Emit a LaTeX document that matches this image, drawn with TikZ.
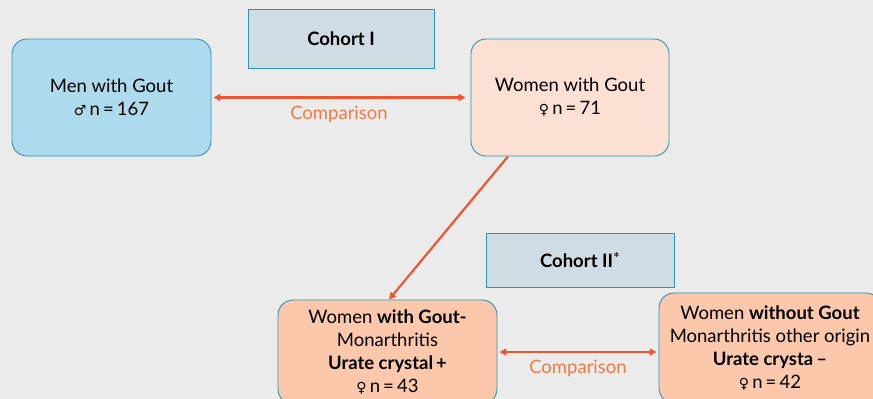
\documentclass[tikz,border=0pt]{standalone}
\usepackage{fontspec}
\setmainfont{Lato}
\newfontfamily\symfont{DejaVu Sans}
\usetikzlibrary{arrows.meta}
\definecolor{bg}{HTML}{EBEBEB}
\definecolor{teal}{HTML}{2A95B5}
\definecolor{cohortfill}{HTML}{D0DCE4}
\definecolor{menfill}{HTML}{ADDAEC}
\definecolor{womenfill}{HTML}{FCE0D3}
\definecolor{subfill}{HTML}{FBC8AB}
\definecolor{arrowc}{HTML}{EE5530}
\definecolor{labelc}{HTML}{F07A45}
\newcommand{\male}{{\symfont\fontsize{14}{14}\selectfont ♂}}
\newcommand{\female}{{\symfont\fontsize{14}{14}\selectfont ♀}}
\tikzset{
  every node/.style={font=\fontsize{18.5}{23}\selectfont, text=black},
  cohortbox/.style={draw=teal, line width=1pt, fill=cohortfill, inner sep=0pt, align=center},
  groupbox/.style={draw=teal, line width=0.9pt, rounded corners=15pt, inner sep=0pt, align=center},
  link/.style={draw=arrowc, line width=2.2pt, {Triangle[length=7pt,width=7pt]}-{Triangle[length=7pt,width=7pt]}},
  onelink/.style={draw=arrowc, line width=2.2pt, -{Triangle[length=7pt,width=7pt]}},
  cmp/.style={text=labelc}
}
\begin{document}
\begin{tikzpicture}[x=1pt,y=-1pt]
\fill[bg] (0,0) rectangle (873,399);
\useasboundingbox (0,0) rectangle (873,399);
\clip (0,0) rectangle (873,399);
\node[cohortbox, minimum width=186pt, minimum height=59pt] (c1) at (341,38.5) {\bfseries Cohort I};
\node[cohortbox, minimum width=188pt, minimum height=54pt] (c2) at (580,260) {\bfseries Cohort II\raisebox{3pt}{\normalfont\fontsize{16}{16}\selectfont *}};
\node[groupbox, fill=menfill, minimum width=199pt, minimum height=117pt] (men) at (111.5,97.5) {Men with Gout\\\male\,n\,=\,167};
\node[groupbox, fill=womenfill, minimum width=198pt, minimum height=117pt] (women) at (570,97.5) {Women with Gout\\\female\,n\,=\,71};
\node[groupbox, fill=subfill, minimum width=219pt, minimum height=104pt] (wg) at (387.5,352) {Women \textbf{with Gout-}\\Monarthritis\\\textbf{Urate crystal\,+}\\\female\,n\,=\,43};
\node[groupbox, fill=subfill, minimum width=222pt, minimum height=110pt] (wo) at (770,348) {Women \textbf{without Gout}\\Monarthritis other origin\\\textbf{Urate crysta\,--}\\\female\,n\,=\,42};
\draw[link, shorten <=2pt, shorten >=5pt] (men.east) -- (women.west);
\node[cmp] (cmp1) at (339,114) {Comparison};
\draw[onelink] ([xshift=-62pt]women.south) -- ([xshift=1.5pt]wg.north);
\draw[link, shorten <=2pt, shorten >=2pt] (wg.east) -- (wg.east -| wo.west);
\node[cmp] (cmp2) at (578,368) {Comparison};
\end{tikzpicture}
\end{document}
